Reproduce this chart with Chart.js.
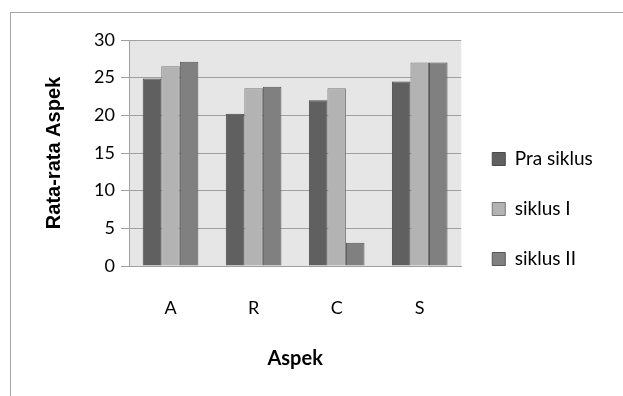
<!DOCTYPE html>
<html>
<head>
<meta charset="utf-8">
<script src="https://cdn.jsdelivr.net/npm/chart.js@4/dist/chart.umd.min.js"></script>
<style>
  html, body { margin: 0; padding: 0; background: #fff; overflow: hidden; }
  .wrap { position: relative; width: 623px; height: 396px; }
  .frame { position: absolute; left: 10px; top: 12px; width: 700px; height: 500px; border: 1px solid #a6a6a6; }
  canvas { position: absolute; left: 0; top: 0; }
</style>
</head>
<body>
<div class="wrap">
  <div class="frame"></div>
  <canvas id="chart" width="623" height="396"></canvas>
</div>
<script>
const categories = ['A', 'R', 'C', 'S'];
const praSiklus = [24.9, 20.2, 22.0, 24.5];
const siklusI = [26.5, 23.6, 23.6, 27.0];
const siklusII = [27.1, 23.8, 3.1, 27.0];
const yTicks = [0, 5, 10, 15, 20, 25, 30];

const fontFamily = "Lato, 'DejaVu Sans Condensed', sans-serif";

// grey plot background like the spreadsheet chart
const plotBackground = {
  id: 'plotBackground',
  beforeDraw(chart) {
    const { ctx, chartArea } = chart;
    ctx.save();
    ctx.fillStyle = '#e6e6e6';
    ctx.fillRect(chartArea.left, chartArea.top, chartArea.right - chartArea.left, chartArea.bottom - chartArea.top);
    ctx.restore();
  }
};

const ctx = document.getElementById('chart').getContext('2d');
const chart = new Chart(ctx, {
  type: 'bar',
  data: {
    labels: categories,
    datasets: [
      { label: 'Pra siklus', data: praSiklus, backgroundColor: '#606060', borderColor: '#4a4a4a', borderWidth: 1 },
      { label: 'siklus I', data: siklusI, backgroundColor: '#b3b3b3', borderColor: '#777777', borderWidth: 1 },
      { label: 'siklus II', data: siklusII, backgroundColor: '#808080', borderColor: '#555555', borderWidth: 1 }
    ]
  },
  options: {
    responsive: false,
    animation: false,
    layout: { padding: { left: 42, top: 40, right: 22, bottom: 18 } },
    datasets: {
      bar: { categoryPercentage: 0.67, barPercentage: 1 }
    },
    plugins: {
      legend: {
        position: 'right',
        labels: {
          font: { family: fontFamily, size: 19 },
          color: '#000',
          boxWidth: 13,
          boxHeight: 13,
          padding: 31
        }
      },
      tooltip: { enabled: false }
    },
    scales: {
      x: {
        afterFit(scale) {
          scale.height = 112;
        },
        grid: { display: false, drawTicks: false },
        border: { display: true, color: '#a0a0a0' },
        ticks: { font: { family: fontFamily, size: 18 }, color: '#000', padding: 31 },
        title: {
          display: true,
          text: 'Aspek',
          font: { family: fontFamily, size: 20, weight: 'bold' },
          color: '#000',
          padding: { top: 0, bottom: 7 }
        }
      },
      y: {
        min: 0,
        max: 30,
        afterBuildTicks(scale) {
          scale.ticks = yTicks.map(v => ({ value: v }));
        },
        afterFit(scale) {
          scale.width = 87;
        },
        grid: { color: '#a0a0a0', tickLength: 8 },
        border: { display: true, color: '#a0a0a0' },
        ticks: { font: { family: fontFamily, size: 18 }, color: '#000', padding: 6 },
        title: {
          display: true,
          text: 'Rata-rata Aspek',
          font: { family: "'Liberation Sans', Arial, sans-serif", size: 20, weight: 'bold' },
          color: '#000',
          padding: 0
        }
      }
    }
  },
  plugins: [plotBackground]
});
</script>
</body>
</html>
